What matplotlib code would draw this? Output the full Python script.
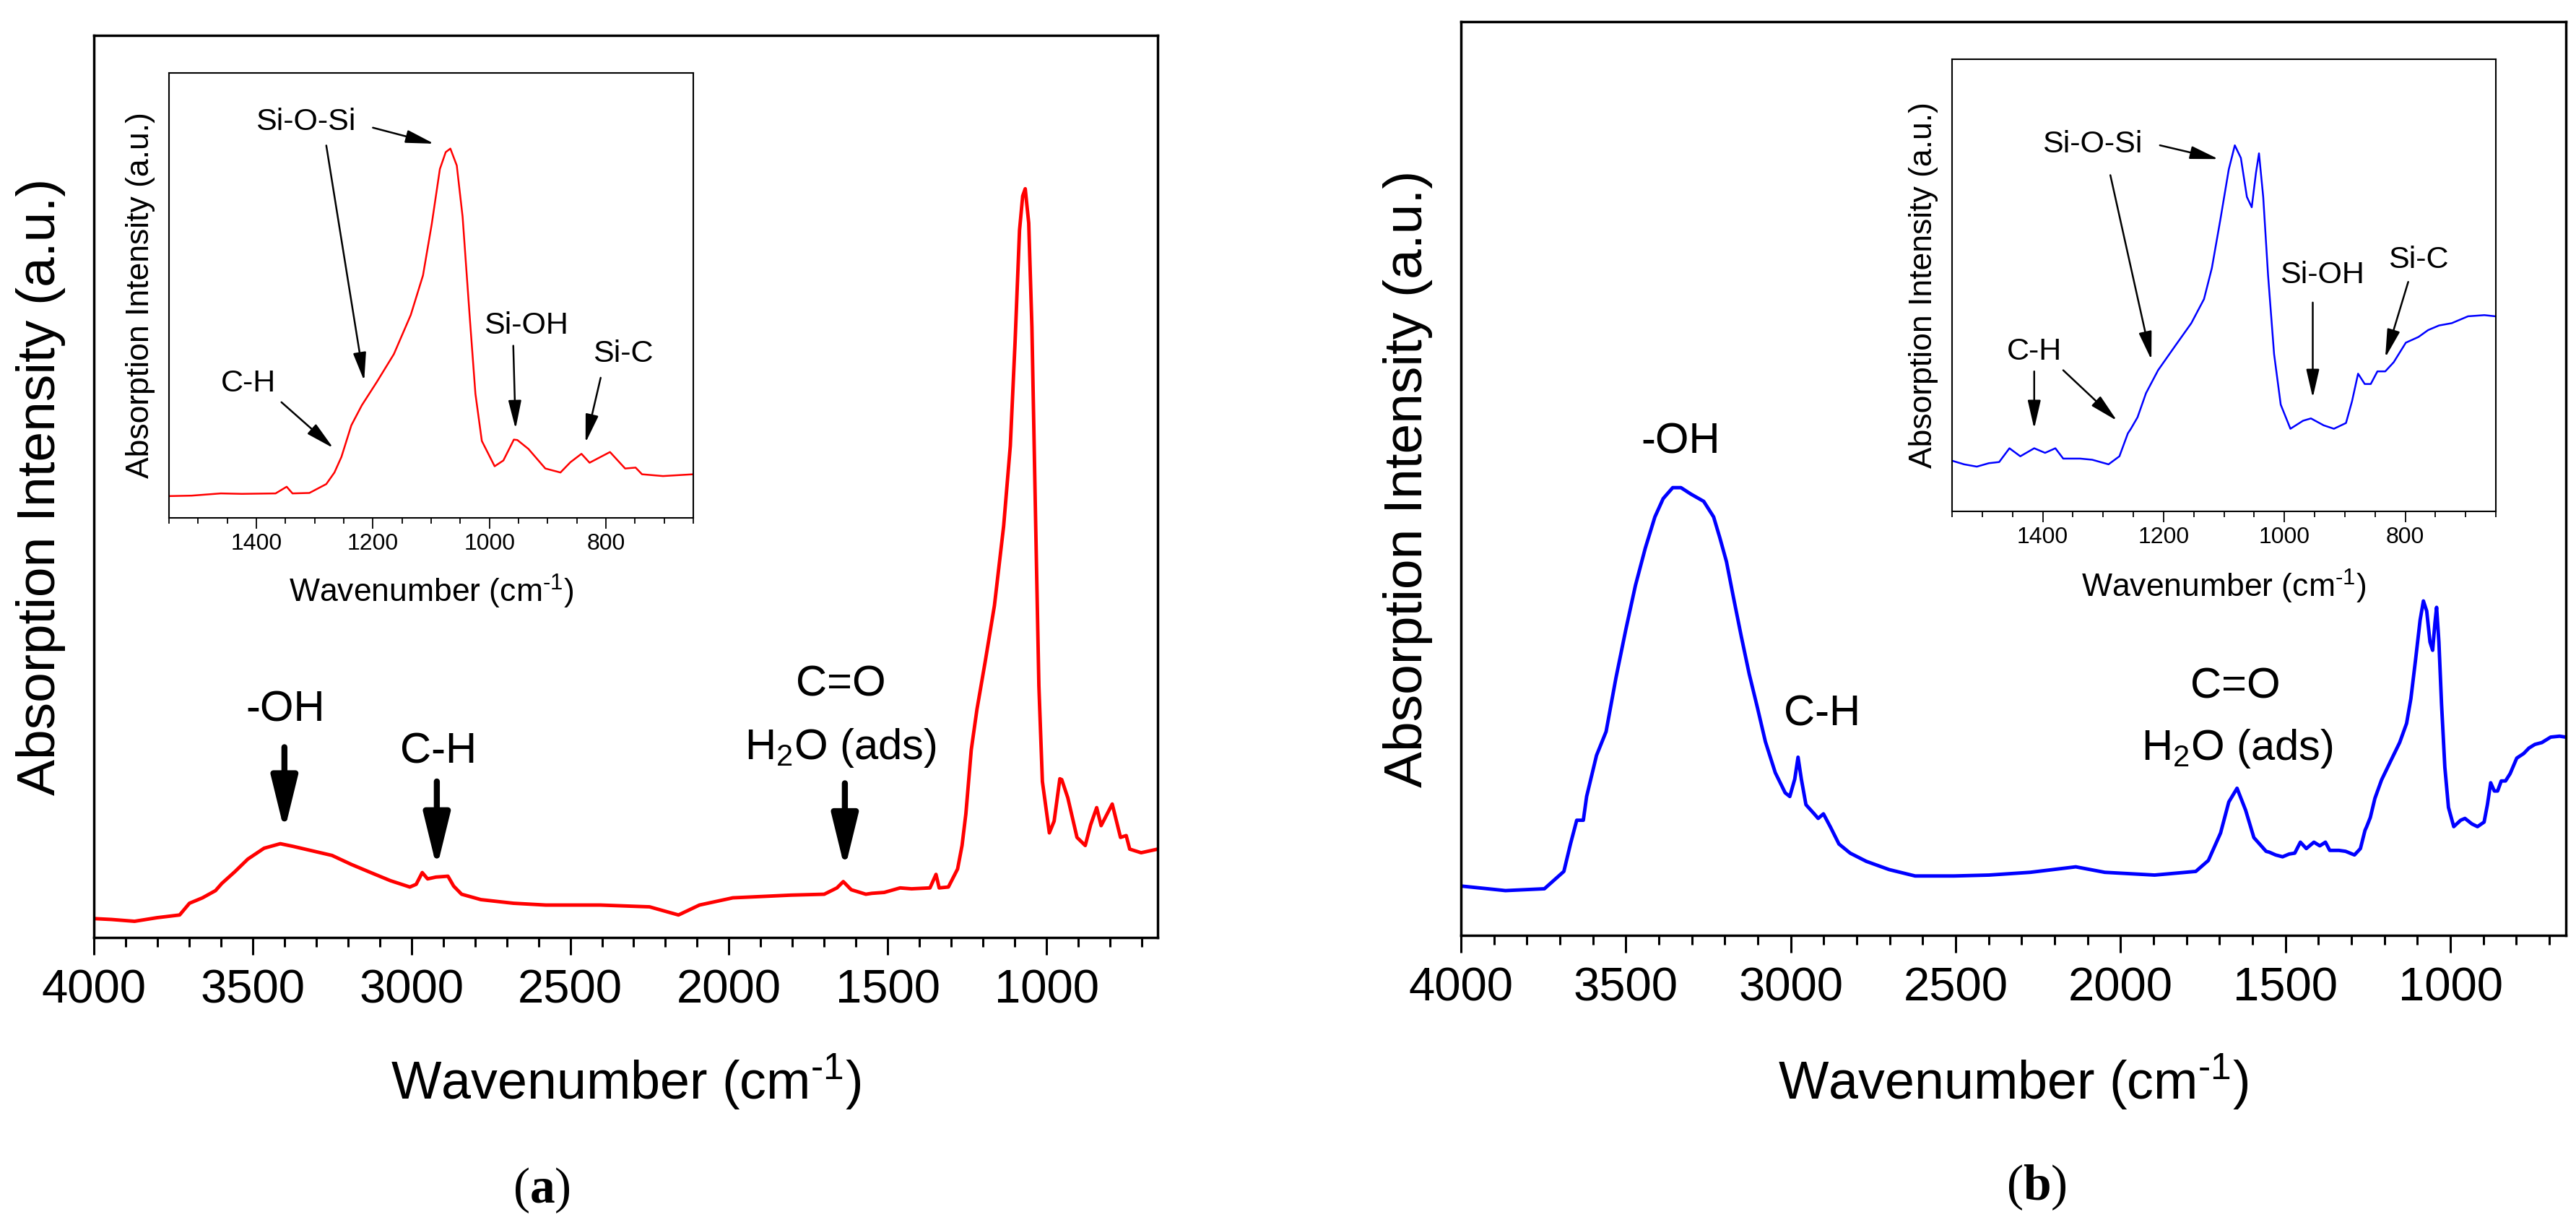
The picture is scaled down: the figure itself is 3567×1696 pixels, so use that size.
import matplotlib.pyplot as plt
from matplotlib.ticker import MultipleLocator

plt.rcParams['font.family'] = ['Liberation Sans', 'DejaVu Sans']
plt.rcParams['mathtext.fontset'] = 'custom'
plt.rcParams['mathtext.rm'] = 'Liberation Sans'
plt.rcParams['mathtext.bf'] = 'Liberation Serif:bold'
plt.rcParams['mathtext.default'] = 'regular'

# (a) spectrum: wavenumber (cm-1) and absorption (a.u.)
wn_a = [4000, 3944, 3872, 3801, 3730, 3699, 3658, 3617, 3597, 3556,
        3515, 3464, 3413, 3372, 3311, 3250, 3189, 3128, 3066, 3005,
        2985, 2966, 2949, 2923, 2885, 2867, 2842, 2781, 2679, 2577,
        2405, 2250, 2159, 2093, 1988, 1805, 1700, 1660, 1640, 1615,
        1569,
        1550, 1511, 1461, 1425, 1367, 1348, 1338, 1309, 1280, 1266,
        1254, 1237, 1219, 1193, 1164, 1135, 1114, 1099, 1085, 1075,
        1067, 1056, 1046, 1034, 1024, 1013, 991, 976, 958, 952,
        933, 904, 878, 861, 842, 828, 793, 767, 749, 738,
        702, 650]
abs_a = [0.021, 0.020, 0.018, 0.022, 0.025, 0.038, 0.044, 0.052, 0.060, 0.073,
         0.087, 0.099, 0.104, 0.101, 0.096, 0.091, 0.081, 0.072, 0.063, 0.056,
         0.059, 0.072, 0.065, 0.067, 0.068, 0.057, 0.048, 0.042, 0.038, 0.036,
         0.036, 0.034, 0.025, 0.036, 0.044, 0.047, 0.048, 0.055, 0.062, 0.053,
         0.048,
         0.049, 0.050, 0.055, 0.054, 0.055, 0.070, 0.055, 0.056, 0.076, 0.102,
         0.137, 0.208, 0.253, 0.306, 0.368, 0.456, 0.545, 0.660, 0.784, 0.822,
         0.830, 0.792, 0.677, 0.456, 0.279, 0.173, 0.116, 0.129, 0.176, 0.175,
         0.155, 0.111, 0.102, 0.125, 0.144, 0.124, 0.148, 0.111, 0.113, 0.098,
         0.094, 0.098]

# (b) spectrum
wn_b = [4000, 3865, 3747, 3688, 3668, 3649, 3629, 3619, 3589, 3560,
        3530, 3500, 3471, 3441, 3412, 3387, 3358, 3333, 3303, 3264,
        3234, 3215, 3195, 3175, 3150, 3126, 3101, 3077, 3047, 3017,
        3003, 2988, 2978, 2968, 2954, 2929, 2917, 2901, 2879, 2854,
        2820, 2771, 2702, 2623, 2505, 2399, 2274, 2136, 2048, 1897,
        1772, 1734, 1697, 1672, 1647, 1621, 1596, 1559,
        1549, 1530, 1509, 1489, 1472, 1455, 1437, 1414, 1396, 1379,
        1366, 1338, 1318, 1291, 1273, 1259, 1254, 1243, 1229, 1209,
        1181, 1154, 1133, 1120, 1106, 1092, 1082, 1072, 1062, 1054,
        1047, 1042, 1035, 1027, 1017, 1006, 990, 969, 956, 935,
        918, 898, 888, 878, 867, 857, 846, 833, 819, 799,
        778, 762, 744, 723, 696, 669, 651]
abs_b = [0.054, 0.049, 0.051, 0.070, 0.100, 0.126, 0.126, 0.152, 0.197, 0.223,
         0.282, 0.335, 0.383, 0.424, 0.458, 0.478, 0.490, 0.490, 0.483, 0.475,
         0.458, 0.435, 0.409, 0.372, 0.327, 0.286, 0.249, 0.212, 0.178, 0.156,
         0.152, 0.171, 0.195, 0.171, 0.143, 0.133, 0.128, 0.133, 0.118, 0.100,
         0.090, 0.081, 0.072, 0.065, 0.065, 0.066, 0.069, 0.075, 0.069, 0.066,
         0.070, 0.082, 0.112, 0.146, 0.161, 0.137, 0.107, 0.092,
         0.091, 0.088, 0.086, 0.089, 0.090, 0.102, 0.095, 0.102, 0.098, 0.102,
         0.093, 0.093, 0.092, 0.088, 0.095, 0.115, 0.119, 0.129, 0.150, 0.170,
         0.191, 0.211, 0.232, 0.259, 0.301, 0.345, 0.366, 0.355, 0.321, 0.312,
         0.342, 0.359, 0.321, 0.253, 0.184, 0.140, 0.119, 0.126, 0.128, 0.122,
         0.119, 0.124, 0.143, 0.167, 0.158, 0.158, 0.169, 0.169, 0.177, 0.194,
         0.199, 0.205, 0.209, 0.211, 0.217, 0.218, 0.217]

# peak labels: (text, x, y) and arrows (tail x, tail y, tip x, tip y)
main_lbl_a = [('-OH', 3398, 0.252), ('C-H', 2915, 0.206),
              ('C=O', 1648, 0.280), ('H$_2$O (ads)', 1648, 0.210)]
main_arr_a = [(3400, 0.211, 3400, 0.118), (2920, 0.173, 2920, 0.077),
              (1635, 0.171, 1635, 0.076)]
main_lbl_b = [('-OH', 3333, 0.540), ('C-H', 2904, 0.242),
              ('C=O', 1652, 0.272), ('H$_2$O (ads)', 1647, 0.204)]

ins_lbl_a = [('Si-O-Si', 1316, 0.890), ('C-H', 1414, 0.302),
             ('Si-OH', 937, 0.432), ('Si-C', 771, 0.368)]
ins_arr_a = [(1200, 0.877, 1095, 0.841), (1280, 0.837, 1215, 0.308),
             (1357, 0.260, 1268, 0.157), (959, 0.387, 955, 0.200),
             (809, 0.315, 835, 0.169)]
ins_lbl_b = [('Si-O-Si', 1318, 0.367), ('C-H', 1414, 0.186),
             ('Si-OH', 938, 0.2526), ('Si-C', 778, 0.266)]
ins_arr_b = [(1206, 0.366, 1109, 0.354), (1288, 0.340, 1220, 0.179),
             (1414, 0.169, 1414, 0.119), (1366, 0.170, 1277, 0.126),
             (953, 0.229, 953, 0.146), (795, 0.247, 833, 0.181)]

W, H = 3567, 1696
fig = plt.figure(figsize=(W / 100, H / 100), dpi=100)


def box(x0, y0, x1, y1):
    return [x0 / W, 1 - y1 / H, (x1 - x0) / W, (y1 - y0) / H]


ax_a = fig.add_axes(box(130, 49, 1603, 1298))
ax_b = fig.add_axes(box(2023, 30, 3553, 1295))
in_a = fig.add_axes(box(234, 101, 960, 717))
in_b = fig.add_axes(box(2703, 82, 3456, 708))

xlab = r'Wavenumber (cm$^{\text{-1}}$)'
ylab = 'Absorption Intensity (a.u.)'

for ax, wn, ab, col in [(ax_a, wn_a, abs_a, 'red'), (ax_b, wn_b, abs_b, 'blue')]:
    ax.plot(wn, ab, color=col, lw=3.5)
    ax.set_xlim(4000, 650)
    ax.set_ylim(0, 1)
    ax.xaxis.set_major_locator(MultipleLocator(500))
    ax.xaxis.set_minor_locator(MultipleLocator(100))
    ax.set_yticks([])
    ax.tick_params(axis='x', which='major', direction='out', length=17, width=2.2,
                   pad=14, labelsize=47)
    ax.tick_params(axis='x', which='minor', direction='out', length=9, width=2.2)
    for s in ax.spines.values():
        s.set_linewidth(2.5)
    ax.set_xlabel(xlab, fontsize=53)
    ax.xaxis.set_label_coords(0.5, -0.16)
    ax.xaxis.label.set_va('center')
    ax.set_ylabel(ylab, fontsize=54, labelpad=28)

in_a.plot(wn_a, abs_a, color='red', lw=1.8)
in_a.set_ylim(0, 1)
in_b.plot(wn_b, abs_b, color='blue', lw=1.8)
in_b.set_ylim(0.047, 0.441)

for ax in [in_a, in_b]:
    ax.set_xlim(1550, 650)
    ax.xaxis.set_major_locator(MultipleLocator(200))
    ax.xaxis.set_minor_locator(MultipleLocator(50))
    ax.set_yticks([])
    ax.tick_params(axis='x', which='major', direction='out', length=11, width=1.3,
                   pad=4, labelsize=23)
    ax.tick_params(axis='x', which='minor', direction='out', length=6, width=1.3)
    for s in ax.spines.values():
        s.set_linewidth(1.5)
    ax.set_xlabel(xlab, fontsize=32)
    ax.xaxis.set_label_coords(0.5, -0.166)
    ax.xaxis.label.set_va('center')
    ax.set_ylabel(ylab, fontsize=32, labelpad=14)

# big arrows on panel (a)
for x0, y0, x1, y1 in main_arr_a:
    ax_a.annotate('', xy=(x1, y1), xytext=(x0, y0),
                  arrowprops=dict(arrowstyle='-|>,head_length=4.5,head_width=1.1',
                                  mutation_scale=10, lw=6, color='black',
                                  shrinkA=0, shrinkB=0))

for ax, lbls in [(ax_a, main_lbl_a), (ax_b, main_lbl_b)]:
    for t, x, y in lbls:
        ax.text(x, y, t, fontsize=43, ha='center', va='center')

for ax, lbls, arrs in [(in_a, ins_lbl_a, ins_arr_a), (in_b, ins_lbl_b, ins_arr_b)]:
    for t, x, y in lbls:
        ax.text(x, y, t, fontsize=31, ha='center', va='center')
    for x0, y0, x1, y1 in arrs:
        ax.annotate('', xy=(x1, y1), xytext=(x0, y0),
                    arrowprops=dict(arrowstyle='-|>,head_length=2.4,head_width=0.55',
                                    mutation_scale=10, lw=1.8, color='black',
                                    shrinkA=0, shrinkB=0))

fig.text(750 / W, 1 - 1648 / H, r'($\mathbf{a}$)', fontsize=50,
         family='Liberation Serif', ha='center', va='center')
fig.text(2820 / W, 1 - 1644 / H, r'($\mathbf{b}$)', fontsize=50,
         family='Liberation Serif', ha='center', va='center')

fig.savefig('out.png', dpi=100)
